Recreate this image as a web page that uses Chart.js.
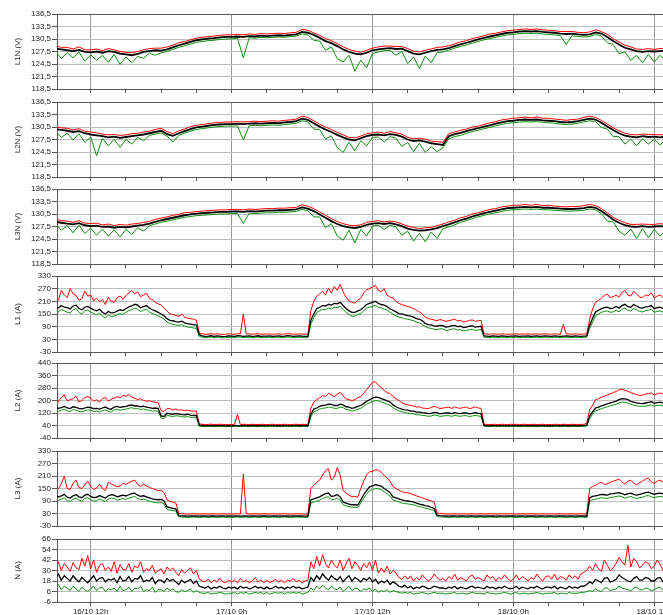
<!DOCTYPE html>
<html>
<head>
<meta charset="utf-8">
<script src="https://cdn.jsdelivr.net/npm/chart.js@4"></script>
<style>
  html, body { margin: 0; padding: 0; background: #fff; width: 663px; height: 615px; overflow: hidden; position: relative; }
  canvas { position: absolute; left: 0; }
</style>
</head>
<body>
<script>
// Time axis: hours counted from 16/10 00:00
const startHour = 9;
const stepVoltage = 0.5;   // voltage series: one sample per half hour
const stepCurrent = 0.25;  // current series: one sample per quarter hour
const xTickHours = [12, 15, 18, 21, 24, 27, 30, 33, 36, 39, 42, 45, 48, 51, 54, 57, 60, 63];
const xLabelHours = [12, 24, 36, 48, 60];
const xLabelTexts = ['16/10 12h', '17/10 0h', '17/10 12h', '18/10 0h', '18/10 12h'];

// Phase-to-neutral voltages (V): max / average / min, every 0.5 h from 9h
const l1nMax = [
  128.8,128.5,128.5,128.1,128.6,127.9,127.9,
  128.1,127.7,128.2,127.9,127.5,127.3,
  127.2,127.5,127.9,128.2,128.3,128.3,
  128.6,129.0,129.6,129.9,130.3,130.7,
  130.9,131.1,131.2,131.4,131.5,131.5,
  131.6,131.5,131.7,131.6,131.8,131.7,
  131.8,131.9,131.8,132.0,132.1,132.8,
  132.6,132.0,131.4,130.6,130.1,129.4,
  128.6,128.0,127.6,127.3,127.8,128.3,
  128.6,128.8,128.8,128.7,128.7,128.2,
  127.6,127.4,127.8,128.1,128.5,128.6,
  128.9,129.3,129.8,130.1,130.6,130.9,
  131.3,131.7,131.9,132.2,132.5,132.6,
  132.8,132.9,132.8,132.9,132.7,132.6,
  132.5,132.3,132.3,132.3,132.1,132.0,
  132.2,132.7,132.3,131.6,130.6,129.8,
  129.0,128.6,128.1,128.0,128.2,128.0,
  128.2,128.2,128.1];
const l1nAvg = [
  128.2,128.0,127.8,127.6,127.9,127.4,127.3,
  127.5,127.2,127.6,127.4,127.0,126.8,
  126.6,126.9,127.4,127.6,127.8,127.7,
  128.0,128.5,129.0,129.4,129.8,130.2,
  130.4,130.6,130.7,130.9,131.0,131.0,
  131.1,131.0,131.2,131.1,131.3,131.2,
  131.3,131.4,131.3,131.5,131.6,132.2,
  132.0,131.5,130.8,130.0,129.5,128.8,
  128.0,127.4,127.0,126.8,127.2,127.8,
  128.0,128.2,128.3,128.1,128.2,127.6,
  127.0,126.8,127.2,127.6,127.9,128.0,
  128.3,128.8,129.2,129.6,130.0,130.4,
  130.8,131.1,131.4,131.7,132.0,132.1,
  132.3,132.4,132.3,132.4,132.2,132.1,
  132.0,131.8,131.7,131.8,131.6,131.5,
  131.6,132.1,131.8,131.0,130.0,129.2,
  128.4,128.0,127.6,127.4,127.6,127.5,
  127.6,127.7,127.6];
const l1nMin = [
  127.6,125.8,127.2,126.0,127.4,125.2,126.7,
  125.4,126.6,124.9,126.8,124.4,126.2,
  124.8,126.3,125.9,127.1,126.6,127.2,
  127.5,128.0,128.5,128.9,129.3,129.7,
  129.9,130.1,130.2,130.4,130.5,130.5,
  130.7,126.0,130.8,130.7,130.9,130.8,
  130.9,131.0,130.9,131.1,131.2,131.7,
  131.5,130.2,130.0,127.8,128.6,125.8,
  125.0,126.6,122.8,125.4,123.6,127.0,
  127.4,127.7,127.8,126.6,127.5,124.6,
  126.2,123.4,126.4,124.8,127.2,127.4,
  127.8,128.3,128.7,129.1,129.5,129.9,
  130.3,130.6,130.9,131.2,131.5,131.6,
  131.8,131.9,131.8,131.9,131.7,131.6,
  131.5,131.3,129.2,131.3,131.1,131.0,
  131.1,131.6,131.2,129.6,129.2,127.0,
  127.4,125.4,126.6,124.8,126.8,125.0,
  126.6,125.2,126.8];

const l2nMax = [
  130.6,130.3,130.2,129.8,130.1,129.5,129.3,
  129.1,128.8,128.6,128.7,128.5,128.6,
  128.9,129.0,129.3,129.5,129.9,130.2,
  129.4,128.9,129.6,130.0,130.6,130.9,
  131.1,131.3,131.5,131.6,131.7,131.7,
  131.8,131.7,131.8,131.9,131.8,131.9,
  132.0,131.9,132.1,132.2,132.4,133.1,
  132.8,132.0,131.2,130.5,129.9,129.2,
  128.6,128.0,127.9,128.3,128.9,129.1,
  129.3,129.0,129.4,129.1,128.8,128.0,
  127.7,127.8,127.6,127.1,127.0,126.8,
  128.9,129.3,129.7,130.0,130.5,130.7,
  131.1,131.5,131.8,132.2,132.4,132.6,
  132.7,132.9,132.7,132.9,132.6,132.6,
  132.4,132.3,132.1,132.3,132.4,132.8,
  133.1,132.8,132.1,131.2,130.3,129.6,
  129.0,128.7,128.6,128.8,128.7,128.7,
  128.6,128.8,128.7];
const l2nAvg = [
  130.0,129.8,129.6,129.3,129.5,129.0,128.7,
  128.5,128.3,128.0,128.2,127.9,128.1,
  128.3,128.5,128.7,129.0,129.3,129.6,
  128.8,128.4,129.0,129.5,130.0,130.4,
  130.6,130.8,131.0,131.1,131.2,131.2,
  131.3,131.2,131.3,131.4,131.3,131.4,
  131.5,131.4,131.6,131.7,131.9,132.5,
  132.2,131.4,130.6,129.9,129.3,128.6,
  128.0,127.5,127.3,127.8,128.3,128.6,
  128.7,128.5,128.8,128.6,128.2,127.5,
  127.1,127.3,127.0,126.6,126.4,126.2,
  128.3,128.8,129.1,129.5,129.9,130.2,
  130.6,130.9,131.3,131.6,131.9,132.0,
  132.2,132.3,132.2,132.3,132.1,132.0,
  131.9,131.7,131.6,131.7,131.9,132.2,
  132.5,132.3,131.5,130.6,129.8,129.0,
  128.4,128.2,128.0,128.3,128.1,128.2,
  128.0,128.3,128.1];
const l2nMin = [
  129.5,128.0,129.0,127.4,128.9,126.8,128.1,
  123.6,127.8,126.0,127.6,125.6,127.5,
  126.4,128.0,127.2,128.5,128.8,129.1,
  128.3,126.9,128.5,129.0,129.5,129.9,
  130.1,130.3,130.5,130.6,130.7,130.7,
  130.8,127.4,130.8,130.9,130.8,130.9,
  131.0,130.9,131.1,131.2,131.4,132.0,
  131.7,130.0,129.9,127.6,128.4,125.6,
  124.4,126.8,124.8,127.2,126.0,128.0,
  128.1,126.9,128.2,127.8,125.8,126.8,
  124.6,126.6,124.4,125.8,124.6,125.5,
  127.7,128.2,128.5,129.0,129.4,129.7,
  130.1,130.4,130.8,131.1,131.4,131.5,
  131.7,131.8,131.7,131.8,131.6,131.5,
  131.4,131.2,131.1,131.2,131.4,131.7,
  132.0,131.8,130.4,130.0,128.2,128.2,
  126.4,127.6,126.0,127.7,126.4,127.6,
  126.2,127.7,126.6];

const l3nMax = [
  129.2,128.9,128.8,128.5,128.9,128.3,128.2,
  128.3,127.9,128.1,127.7,128.0,127.8,
  128.1,128.2,128.5,128.7,129.2,129.5,
  129.8,130.2,130.4,130.8,130.9,131.1,
  131.2,131.3,131.4,131.5,131.5,131.6,
  131.6,131.5,131.7,131.6,131.7,131.8,
  131.8,131.9,131.9,132.0,132.1,132.7,
  132.4,131.8,131.0,130.2,129.4,128.7,
  128.2,127.8,127.7,127.9,128.5,128.7,
  128.9,128.6,128.8,128.6,128.1,127.6,
  127.3,127.0,127.2,127.3,127.7,128.1,
  128.6,129.0,129.6,129.9,130.5,130.8,
  131.2,131.6,131.8,132.2,132.4,132.6,
  132.6,132.8,132.6,132.8,132.5,132.6,
  132.4,132.3,132.2,132.3,132.3,132.5,
  132.8,132.5,131.8,130.8,129.7,129.0,
  128.4,128.0,128.0,128.1,128.0,128.0,
  128.2,127.9,128.1];
const l3nAvg = [
  128.6,128.4,128.2,128.0,128.3,127.8,127.6,
  127.7,127.4,127.5,127.2,127.4,127.3,
  127.5,127.7,127.9,128.2,128.6,129.0,
  129.3,129.6,129.9,130.2,130.4,130.6,
  130.7,130.8,130.9,131.0,131.0,131.1,
  131.1,131.0,131.2,131.1,131.2,131.3,
  131.3,131.4,131.4,131.5,131.6,132.1,
  131.8,131.2,130.4,129.6,128.8,128.1,
  127.6,127.3,127.1,127.4,127.9,128.2,
  128.3,128.1,128.3,128.0,127.6,127.0,
  126.7,126.5,126.6,126.8,127.1,127.6,
  128.0,128.5,129.0,129.4,129.9,130.3,
  130.7,131.0,131.3,131.6,131.9,132.0,
  132.1,132.2,132.1,132.2,132.0,132.0,
  131.9,131.8,131.7,131.7,131.8,131.9,
  132.2,132.0,131.2,130.2,129.2,128.4,
  127.8,127.5,127.4,127.6,127.4,127.5,
  127.6,127.4,127.5];
const l3nMin = [
  128.1,126.6,127.7,126.0,127.8,125.8,127.1,
  125.4,126.9,125.2,126.7,125.0,126.8,
  125.6,127.2,126.4,127.7,128.1,128.5,
  128.8,129.1,129.4,129.7,129.9,130.1,
  130.2,130.3,130.4,130.5,130.5,130.6,
  130.6,128.2,130.7,130.6,130.7,130.8,
  130.8,130.9,130.9,131.0,131.1,131.6,
  131.3,129.8,129.8,127.2,128.2,125.2,
  124.2,126.6,123.6,126.8,125.2,127.6,
  127.8,126.8,127.8,127.4,125.4,126.4,
  124.0,125.9,123.8,126.2,124.6,127.0,
  127.4,127.9,128.5,128.9,129.4,129.8,
  130.2,130.5,130.8,131.1,131.4,131.5,
  131.6,131.7,131.6,131.7,131.5,131.5,
  131.4,131.3,131.2,131.2,131.3,131.4,
  131.7,131.5,130.6,128.8,128.6,126.4,
  125.4,126.9,124.6,127.0,124.8,126.8,
  125.2,126.8,125.0];

// Line currents (A): max / average / min, every 0.25 h from 9h (one row = 3 h)
const l1Max = [
  230,215,262,240,228,270,245,238,215,222,258,235,
  240,212,225,208,218,195,230,210,205,228,235,220,
  238,250,262,245,255,232,240,248,225,218,205,198,
  192,178,165,150,148,142,140,150,135,130,128,126,
  120,60,56,54,55,57,54,56,55,53,54,56,
  55,54,57,56,150,55,56,54,55,57,54,55,
  55,56,54,55,56,54,55,57,56,54,55,56,
  55,54,54,165,210,235,245,258,240,272,250,280,
  262,290,255,230,212,205,202,215,225,250,265,270,
  278,285,262,255,270,240,230,225,210,200,195,190,
  185,182,175,168,160,150,135,128,125,122,118,124,
  120,115,118,122,125,118,120,112,115,120,122,115,
  118,120,56,55,54,56,55,54,56,55,54,55,
  55,56,54,55,55,56,54,55,56,54,55,56,
  55,54,56,55,54,100,56,55,54,56,55,54,
  55,56,125,175,205,215,225,238,245,228,232,240,
  230,252,262,240,235,258,245,230,228,240,238,250,
  225,235,240,228,232,245,236];
const l1Avg = [
  185,178,190,182,180,174,188,192,176,170,182,186,
  178,170,165,172,158,150,162,155,156,164,170,166,
  175,184,188,196,192,180,185,190,178,170,165,158,
  150,142,128,120,118,114,112,116,108,104,102,100,
  98,52,46,44,45,47,44,46,45,43,44,46,
  45,44,47,46,44,45,46,44,45,47,44,45,
  45,46,44,45,46,44,45,47,46,44,45,46,
  45,44,44,120,150,175,182,190,188,196,192,200,
  198,205,190,176,165,158,158,165,170,182,195,200,
  205,210,200,195,192,185,175,168,160,152,150,146,
  142,140,135,128,125,118,105,100,98,94,92,96,
  95,88,90,94,96,90,92,86,88,92,94,88,
  90,92,46,45,44,46,45,44,46,45,44,45,
  45,46,44,45,45,46,44,45,46,44,45,46,
  45,44,46,45,44,45,46,45,44,46,45,44,
  45,46,98,130,160,168,175,180,182,176,178,186,
  178,190,196,185,182,195,188,180,178,184,185,190,
  175,180,182,176,178,184,180];
const l1Min = [
  168,160,172,165,158,155,170,175,158,150,166,168,
  160,152,146,154,140,132,145,138,140,146,152,148,
  158,166,170,178,172,162,168,172,160,152,148,140,
  134,126,112,104,102,98,96,100,92,88,86,84,
  82,44,40,38,39,41,38,40,39,37,38,40,
  39,38,41,40,38,39,40,38,39,41,38,39,
  39,40,38,39,40,38,39,41,40,38,39,40,
  39,38,38,102,132,158,165,172,170,178,174,182,
  180,186,172,158,148,140,140,148,152,165,178,182,
  186,192,182,178,174,168,158,150,142,135,132,128,
  125,122,118,112,108,100,90,84,82,78,76,80,
  79,72,74,78,80,74,76,70,72,76,78,72,
  74,76,40,39,38,40,39,38,40,39,38,39,
  39,40,38,39,39,40,38,39,40,38,39,40,
  39,38,40,39,38,39,40,39,38,40,39,38,
  39,40,82,112,142,150,158,162,165,158,160,168,
  160,172,178,168,164,176,170,162,160,166,168,172,
  158,162,165,158,160,166,162];

const l2Max = [
  205,192,220,235,198,205,212,228,190,200,218,226,
  215,195,205,190,212,220,196,208,215,224,218,232,
  228,238,222,215,205,212,200,196,198,192,190,185,
  135,130,150,148,140,146,138,140,135,138,134,132,
  132,50,48,46,47,49,46,47,48,47,46,47,
  46,48,110,46,48,47,46,48,47,46,48,47,
  46,47,48,46,47,46,48,47,46,47,48,46,
  48,47,46,150,190,205,218,232,226,245,238,225,
  240,252,230,210,205,200,205,218,225,245,270,292,
  315,320,298,282,265,250,245,225,210,200,185,178,
  172,168,165,158,160,152,150,148,155,162,158,148,
  152,155,158,148,160,152,150,156,158,148,152,160,
  152,150,48,47,46,48,47,46,48,47,46,48,
  47,48,46,47,48,46,47,48,46,47,48,46,
  47,46,48,47,46,48,47,46,48,47,46,48,
  47,55,140,170,205,212,220,228,235,242,250,258,
  268,272,265,260,250,245,238,232,235,240,245,248,
  235,242,248,240,238,245,240];
const l2Avg = [
  158,150,155,162,152,148,160,156,150,146,152,158,
  155,148,150,145,152,158,148,144,158,162,156,160,
  162,168,172,165,166,160,164,158,155,150,152,148,
  102,98,118,115,112,116,115,110,108,112,106,104,
  105,42,40,38,39,40,38,39,40,39,38,39,
  38,40,39,38,40,39,38,40,39,38,40,39,
  38,39,40,38,39,38,40,39,38,39,40,38,
  40,39,38,112,145,152,162,168,170,176,175,168,
  168,176,172,160,158,150,155,162,168,180,195,205,
  215,222,220,212,205,198,190,172,160,152,145,140,
  138,132,132,126,125,122,120,116,118,124,122,115,
  118,120,120,116,122,118,116,120,120,114,118,122,
  118,116,40,39,38,40,39,38,40,39,38,40,
  39,40,38,39,40,38,39,40,38,39,40,38,
  39,38,40,39,38,40,39,38,40,39,38,40,
  39,42,100,128,152,158,165,172,178,185,190,196,
  205,212,210,205,195,190,185,182,180,184,188,192,
  182,186,190,184,185,188,183];
const l2Min = [
  140,132,138,145,134,130,142,138,132,128,134,140,
  137,130,132,127,134,140,130,126,140,144,138,142,
  144,150,154,147,148,142,146,140,137,132,134,130,
  88,84,104,101,98,102,101,96,94,98,92,90,
  91,35,34,33,34,35,33,34,35,34,33,34,
  33,35,34,33,35,34,33,35,34,33,35,34,
  33,34,35,33,34,33,35,34,33,34,35,33,
  35,34,33,95,128,135,145,150,152,158,156,150,
  150,158,154,142,140,132,137,144,150,162,176,186,
  194,200,198,190,184,176,170,154,142,134,128,122,
  120,115,115,109,108,105,103,99,101,107,105,98,
  101,103,103,99,105,101,99,103,103,97,101,105,
  101,99,35,34,33,35,34,33,35,34,33,35,
  34,35,33,34,35,33,34,35,33,34,35,33,
  34,33,35,34,33,35,34,33,35,34,33,35,
  34,37,85,112,135,140,148,154,160,166,170,176,
  185,190,188,184,176,170,166,163,162,165,168,172,
  164,168,170,165,166,168,164];

const l3Max = [
  165,148,172,210,150,145,175,190,155,150,168,185,
  160,145,152,170,150,140,180,172,165,158,162,175,
  170,178,185,190,170,160,170,162,155,150,145,140,
  142,130,95,88,85,80,30,29,28,27,28,29,
  28,27,28,29,27,28,29,27,28,29,27,28,
  27,28,29,27,220,29,27,28,29,27,28,29,
  28,27,29,28,27,28,29,28,27,28,29,28,
  28,27,27,150,165,180,190,215,235,245,190,205,
  250,215,140,128,118,110,112,108,150,185,215,230,
  232,240,238,228,212,200,185,160,150,142,135,130,
  130,125,120,115,110,105,100,95,90,85,32,30,
  29,28,27,28,29,27,28,29,27,28,29,27,
  28,29,27,28,29,28,27,28,29,27,28,29,
  28,27,28,29,27,28,29,28,27,28,29,27,
  28,29,27,28,29,28,27,28,29,27,28,29,
  28,27,150,160,165,175,180,170,172,180,185,190,
  195,180,172,185,190,175,168,178,185,195,200,182,
  175,185,190,180,176,188,182];
const l3Avg = [
  118,110,114,122,108,104,115,120,110,106,118,122,
  112,106,108,116,110,104,115,120,118,110,114,118,
  114,120,125,128,118,112,115,110,105,100,98,96,
  98,90,62,58,55,52,20,19,18,17,18,19,
  18,17,18,19,17,18,19,17,18,19,17,18,
  17,18,19,17,18,19,17,18,19,17,18,19,
  18,17,19,18,17,18,19,18,17,18,19,18,
  18,17,17,95,100,105,110,118,125,128,112,115,
  120,110,85,80,75,72,72,70,95,120,140,158,
  162,168,165,162,150,140,130,110,105,100,95,92,
  90,88,85,80,75,72,68,65,60,55,22,20,
  19,18,17,18,19,17,18,19,17,18,19,17,
  18,19,17,18,19,18,17,18,19,17,18,19,
  18,17,18,19,17,18,19,18,17,18,19,17,
  18,19,17,18,19,18,17,18,19,17,18,19,
  18,17,105,112,115,118,122,120,118,124,125,128,
  130,126,120,124,128,122,118,122,125,130,132,126,
  122,126,128,124,120,125,124];
const l3Min = [
  102,94,98,106,92,88,99,104,94,90,102,106,
  96,90,92,100,94,88,99,104,102,94,98,102,
  98,104,108,112,102,96,99,94,90,85,83,81,
  83,76,50,46,44,42,14,13,12,11,12,13,
  12,11,12,13,11,12,13,11,12,13,11,12,
  11,12,13,11,12,13,11,12,13,11,12,13,
  12,11,13,12,11,12,13,12,11,12,13,12,
  12,11,11,80,84,90,94,102,108,110,96,98,
  104,94,72,67,63,60,60,58,80,104,122,140,
  145,150,148,145,134,124,114,95,90,86,80,78,
  76,74,72,67,63,60,56,53,49,45,15,14,
  13,12,11,12,13,11,12,13,11,12,13,11,
  12,13,11,12,13,12,11,12,13,11,12,13,
  12,11,12,13,11,12,13,12,11,12,13,11,
  12,13,11,12,13,12,11,12,13,11,12,13,
  12,11,90,96,99,102,106,104,102,108,108,112,
  114,110,104,108,112,106,102,106,108,114,116,110,
  106,110,112,108,104,109,108];

// Neutral current (A): max / average / min, every 0.25 h from 9h
const nMax = [
  36,40,30,38,34,29,39,33,31,44,35,47,
  32,42,28,36,38,30,34,29,40,27,37,31,
  31,38,28,35,33,40,28,32,30,36,27,30,
  32,26,34,30,33,28,24,31,27,30,33,26,
  30,20,18,17,20,16,19,17,21,17,16,19,
  17,19,16,21,17,19,16,18,22,17,19,16,
  19,16,18,20,17,19,16,19,18,21,17,19,
  16,18,19,40,32,46,35,48,38,33,42,36,
  33,42,30,38,44,32,40,36,30,38,33,40,
  30,42,27,33,28,35,26,30,27,22,20,24,
  20,24,18,22,19,25,21,18,20,26,22,19,
  21,18,23,20,26,19,22,20,18,23,25,20,
  22,20,18,25,21,23,18,22,20,25,21,18,
  20,25,19,23,21,18,22,20,26,21,18,23,
  24,20,26,19,23,22,19,25,21,24,20,26,
  28,30,35,30,38,32,29,42,36,30,33,38,
  45,40,36,59,34,44,40,33,36,40,38,32,
  35,42,37,30,36,40,34];
const nAvg = [
  22,26,19,24,21,18,24,20,17,22,19,16,
  20,24,18,21,22,17,20,19,21,16,23,18,
  19,23,17,21,20,24,17,19,18,22,15,19,
  19,16,21,18,20,17,14,19,16,18,20,15,
  18,12,11,10,12,9,11,10,12,10,9,11,
  10,11,9,12,10,11,9,10,12,10,11,9,
  11,9,10,12,10,11,9,11,10,12,10,11,
  9,10,11,22,18,24,20,26,22,19,24,21,
  19,23,17,21,24,18,22,20,17,21,19,22,
  17,20,15,18,16,19,14,17,15,12,11,13,
  10,12,9,11,10,12,11,9,10,12,11,10,
  10,9,11,10,12,9,11,10,9,11,12,10,
  11,10,9,12,10,11,9,11,10,12,10,9,
  10,12,9,11,10,9,11,10,12,10,9,11,
  11,10,12,9,11,10,9,12,10,11,10,12,
  12,14,17,15,20,18,16,21,22,17,18,20,
  25,22,20,18,17,21,23,19,19,22,21,18,
  18,21,22,17,19,20,18];
const nMin = [
  11,14,8,12,10,7,12,9,6,11,8,6,
  9,12,7,10,11,6,9,8,10,6,12,7,
  8,11,6,10,9,12,6,8,7,11,5,8,
  8,6,10,7,9,6,5,8,6,7,9,5,
  7,5,4,4,5,3,4,4,5,4,3,4,
  4,5,3,5,4,5,3,4,5,4,5,3,
  5,3,4,5,4,5,3,5,4,5,4,5,
  3,4,5,10,7,12,9,13,10,8,12,9,
  8,11,6,9,12,7,10,9,6,9,8,10,
  6,9,5,7,6,8,5,7,6,5,4,5,
  4,5,3,4,4,5,4,3,4,5,4,4,
  4,3,4,4,5,3,4,4,3,4,5,4,
  4,4,3,5,4,4,3,4,4,5,4,3,
  4,5,3,4,4,3,4,4,5,4,3,4,
  4,4,5,3,4,4,3,5,4,4,4,5,
  5,6,7,6,9,7,6,10,10,7,8,9,
  12,10,9,8,7,10,11,8,8,10,9,7,
  8,10,11,7,9,9,8];

// Panel definitions: axis title, y range and tick step, decimals in tick labels, sampling step
const panels = [
  { name: 'L1N (V)', lo: 118.5, hi: 136.5, step: 3,  dec: 1, dt: stepVoltage, hiS: l1nMax, avgS: l1nAvg, loS: l1nMin },
  { name: 'L2N (V)', lo: 118.5, hi: 136.5, step: 3,  dec: 1, dt: stepVoltage, hiS: l2nMax, avgS: l2nAvg, loS: l2nMin },
  { name: 'L3N (V)', lo: 118.5, hi: 136.5, step: 3,  dec: 1, dt: stepVoltage, hiS: l3nMax, avgS: l3nAvg, loS: l3nMin },
  { name: 'L1 (A)',  lo: -30,   hi: 330,   step: 60, dec: 0, dt: stepCurrent, hiS: l1Max,  avgS: l1Avg,  loS: l1Min },
  { name: 'L2 (A)',  lo: -40,   hi: 440,   step: 80, dec: 0, dt: stepCurrent, hiS: l2Max,  avgS: l2Avg,  loS: l2Min },
  { name: 'L3 (A)',  lo: -30,   hi: 330,   step: 60, dec: 0, dt: stepCurrent, hiS: l3Max,  avgS: l3Avg,  loS: l3Min },
  { name: 'N (A)',   lo: -6,    hi: 66,    step: 12, dec: 0, dt: stepCurrent, hiS: nMax,   avgS: nAvg,   loS: nMin }
];

// Layout of the stacked plot areas (page pixels)
const plotTops    = [14, 102, 189, 276, 363, 451, 539];
const plotBottoms = [89, 177, 264, 352, 438, 526, 602];
const CANVAS_W = 720;
const AXIS_W = 57;
const X_MIN = 9.13, X_MAX = 65.6;
const PAD_TOP = 8, PAD_BOTTOM = 2;
const FONT = "'Liberation Sans', Arial, sans-serif";
const RED = '#ff0000', BLACK = '#000000', GREEN = '#0a900a';

function points(series, dt) {
  return series.map((v, i) => ({ x: startHour + i * dt, y: v }));
}

function tickText(v, dec) {
  return dec ? v.toFixed(dec).replace('.', ',') : String(Math.round(v));
}

panels.forEach((p, k) => {
  const last = k === panels.length - 1;
  const xAxisH = last ? 16 : 4;
  const plotH = plotBottoms[k] - plotTops[k];
  const h = PAD_TOP + plotH + xAxisH + PAD_BOTTOM;
  const avgWidth = p.dec ? 1.8 : 1.3;
  const cv = document.createElement('canvas');
  cv.width = CANVAS_W;
  cv.height = h;
  cv.style.top = (plotTops[k] - PAD_TOP) + 'px';
  cv.style.width = CANVAS_W + 'px';
  cv.style.height = h + 'px';
  document.body.appendChild(cv);

  new Chart(cv, {
    type: 'line',
    data: {
      datasets: [
        { data: points(p.avgS, p.dt), borderColor: BLACK, borderWidth: avgWidth },
        { data: points(p.loS, p.dt), borderColor: GREEN },
        { data: points(p.hiS, p.dt), borderColor: RED }
      ]
    },
    options: {
      responsive: false,
      animation: false,
      devicePixelRatio: 1,
      layout: { padding: { top: PAD_TOP, bottom: PAD_BOTTOM, left: 0, right: 0 } },
      elements: { point: { radius: 0 }, line: { borderWidth: 1, tension: 0 } },
      plugins: { legend: { display: false }, tooltip: { enabled: false } },
      scales: {
        x: {
          type: 'linear',
          min: X_MIN,
          max: X_MAX,
          afterBuildTicks: s => { s.ticks = xTickHours.map(v => ({ value: v })); },
          afterFit: s => { s.height = xAxisH; },
          grid: {
            color: c => (c.tick && xLabelHours.includes(c.tick.value)) ? '#959595' : 'rgba(0,0,0,0)',
            tickColor: '#555555',
            tickLength: 4
          },
          border: { color: '#555555', width: 1 },
          ticks: {
            display: last,
            autoSkip: false,
            maxRotation: 0,
            padding: 1,
            color: '#222222',
            font: { size: 8, family: FONT },
            callback: v => {
              const j = xLabelHours.indexOf(v);
              return j >= 0 ? xLabelTexts[j] : '';
            }
          }
        },
        y: {
          min: p.lo,
          max: p.hi,
          afterFit: s => { s.width = AXIS_W; },
          grid: {
            color: c => (c.tick && c.tick.value === p.hi) ? '#555555' : '#bdbdbd',
            tickColor: '#555555',
            tickLength: 5
          },
          border: { color: '#555555', width: 1 },
          ticks: {
            stepSize: p.step,
            autoSkip: false,
            padding: 1,
            color: '#222222',
            font: { size: 8, family: FONT },
            callback: v => tickText(v, p.dec)
          },
          title: {
            display: true,
            text: p.name,
            color: '#222222',
            font: { size: 8, family: FONT },
            padding: { top: 13, bottom: 0 }
          }
        }
      }
    }
  });
});
</script>
</body>
</html>
